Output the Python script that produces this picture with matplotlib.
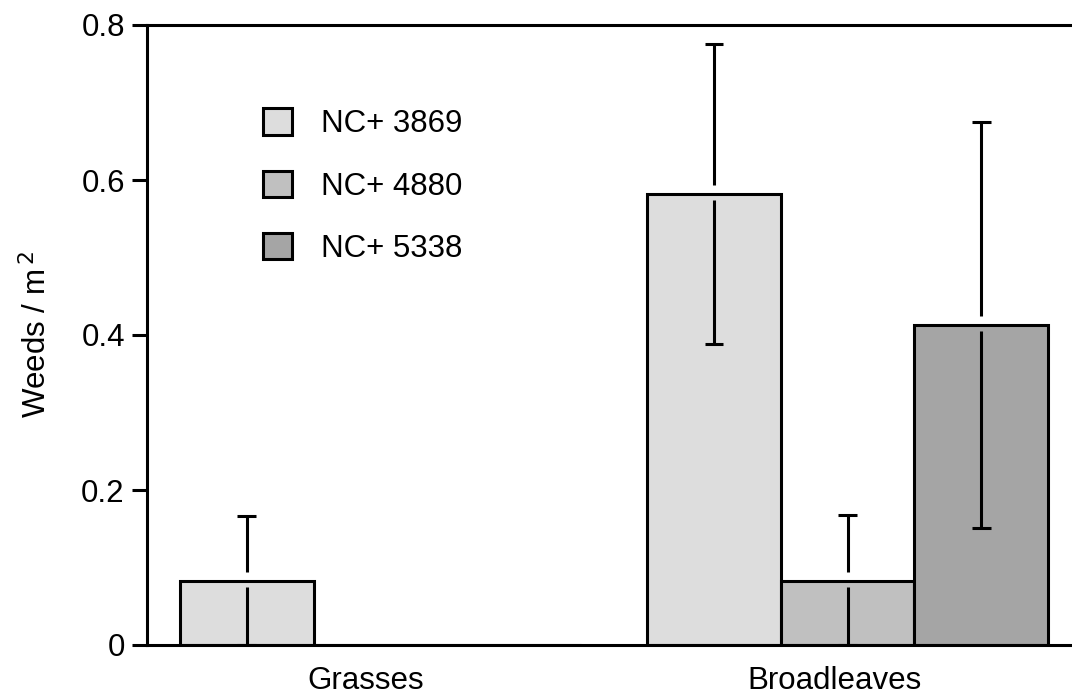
import numpy as np
import matplotlib
matplotlib.use("Agg")
import matplotlib.pyplot as plt

plt.rcParams['font.family'] = ['Liberation Sans', 'DejaVu Sans']
fs = 22.5

# data
groups = ['Grasses', 'Broadleaves']
hybrids = ['NC+ 3869', 'NC+ 4880', 'NC+ 5338']
means = [[0.083, 0.0, 0.0],       # Grasses
         [0.582, 0.083, 0.413]]   # Broadleaves
errs = [[0.084, 0.0, 0.0],
        [0.193, 0.085, 0.262]]

colors = ['#dddddd', '#c0c0c0', '#a5a5a5']
group_start = [0.0, 3.5]   # centre of first bar in each group
label_pos = [0.89, 4.4]

fig = plt.figure(figsize=(10.72, 7), dpi=100)
ax = fig.add_axes([147 / 1072, 55 / 700, 1 - 147 / 1072, 620 / 700])

lw = 2.2
gap_up, gap_dn = 0.0115, 0.008
handles = []
for g in range(len(groups)):
    for i in range(len(hybrids)):
        x = group_start[g] + i
        b = ax.bar(x, means[g][i], width=1.0, color=colors[i], edgecolor='k',
                   linewidth=lw, zorder=2)
        if g == 0:
            handles.append(b)
        m, e = means[g][i], errs[g][i]
        if e > 0:
            # error bar, with a small gap where it crosses the bar top
            ax.vlines(x, m + gap_up, m + e, color='k', lw=lw, zorder=3)
            ax.vlines(x, max(m - e, 0), m - gap_dn, color='k', lw=lw, zorder=3)
            ax.hlines([m + e, max(m - e, 0)], x - 0.07, x + 0.07, color='k', lw=lw, zorder=3)

ax.set_xlim(-0.747, 6.18)
ax.set_ylim(0, 0.8)
ax.set_yticks([0, 0.2, 0.4, 0.6, 0.8])
ax.set_yticklabels(['0', '0.2', '0.4', '0.6', '0.8'], fontsize=fs)
ax.set_xticks(label_pos)
ax.set_xticklabels(groups, fontsize=fs)
ax.tick_params(axis='x', length=0, pad=15)
ax.tick_params(axis='y', length=11, width=lw, pad=5, direction='out')
ax.spines['right'].set_visible(False)
for s in ['left', 'bottom', 'top']:
    ax.spines[s].set_linewidth(lw)
ax.set_ylabel('Weeds / m$^{\\,2}$', fontsize=fs, labelpad=20)

ax.legend(handles, hybrids, loc='upper left', bbox_to_anchor=(0.095, 0.911),
          frameon=False, fontsize=fs, handlelength=0.93, handleheight=0.93,
          labelspacing=1.0, handletextpad=0.93)

fig.savefig('out.png', dpi=100)
